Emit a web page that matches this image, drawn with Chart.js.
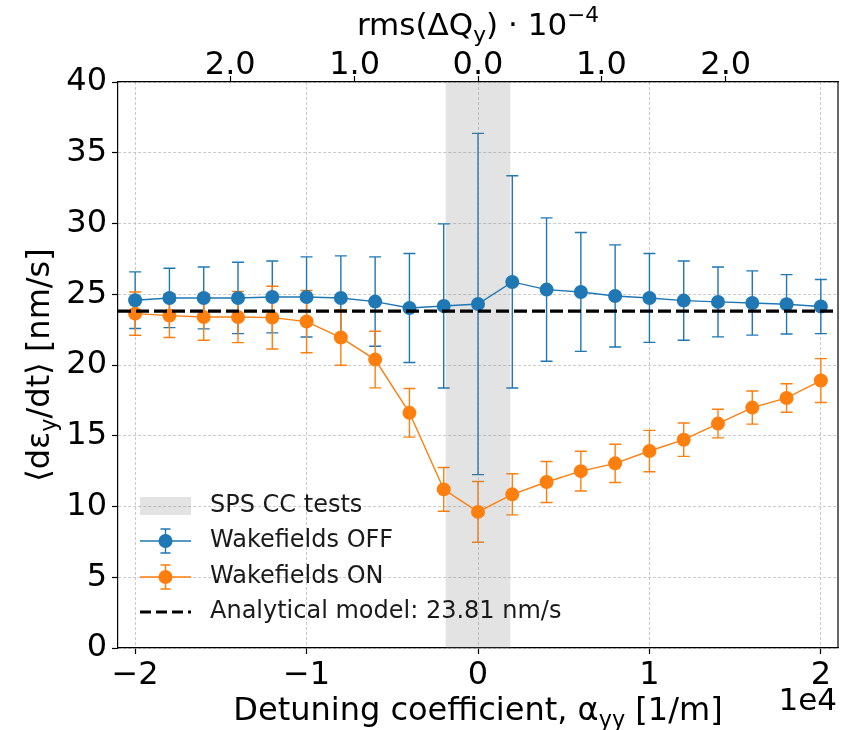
<!DOCTYPE html>
<html>
<head>
<meta charset="utf-8">
<script src="https://cdn.jsdelivr.net/npm/chart.js@4"></script>
<style>
  html, body { margin: 0; padding: 0; background: #fff; }
  #chart { display: block; }
</style>
</head>
<body>
<canvas id="chart" width="848" height="730"></canvas>
<script>
// detuning coefficient (units of 1e4 1/m)
const alphaYY = [-2, -1.8, -1.6, -1.4, -1.2, -1, -0.8, -0.6, -0.4, -0.2, 0, 0.2, 0.4, 0.6, 0.8, 1, 1.2, 1.4, 1.6, 1.8, 2];

const wakeOff = [24.58, 24.74, 24.74, 24.74, 24.81, 24.81, 24.74, 24.48, 24.03, 24.17, 24.31, 25.87, 25.33, 25.16, 24.88, 24.74, 24.55, 24.46, 24.38, 24.29, 24.13];
const wakeOffErr = [2.0, 2.1, 2.19, 2.52, 2.54, 2.83, 2.97, 3.16, 3.85, 5.8, 12.06, 7.5, 5.07, 4.2, 3.61, 3.14, 2.8, 2.47, 2.27, 2.1, 1.91];

const wakeOn = [23.63, 23.49, 23.39, 23.39, 23.35, 23.07, 21.94, 20.38, 16.62, 11.21, 9.62, 10.86, 11.73, 12.5, 13.05, 13.92, 14.72, 15.86, 16.99, 17.67, 18.9];
const wakeOnErr = [1.53, 1.55, 1.64, 1.81, 2.22, 2.2, 1.96, 2.0, 1.72, 1.55, 2.15, 1.45, 1.45, 1.4, 1.35, 1.46, 1.18, 1.01, 1.17, 1.01, 1.55];

const analytical = 23.81;
const sccBand = [-0.19, 0.19];

const xRange = [-2.1, 2.1];
const xTicks = [-2, -1, 0, 1, 2];
const yTicks = [0, 5, 10, 15, 20, 25, 30, 35, 40];
// top axis: rms tune spread (1e-4) placed at matching detuning values
const topTickPos = [-1.445, -0.72, 0, 0.72, 1.445];
const topTickLabels = ['2.0', '1.0', '0.0', '1.0', '2.0'];

const BLUE = '#1f77b4';
const ORANGE = '#ff7f0e';
const FONT = "'DejaVu Sans', sans-serif";

function pts(ys) {
    return alphaYY.map((x, i) => ({ x: x, y: ys[i] }));
}

function fmtMinus(v) {
    return String(v).replace('-', '\u2212');
}

// draws text made of normal / sub / super parts
function richText(ctx, parts, size, x, y, align) {
    const small = size * 0.7;
    let total = 0;
    parts.forEach(p => {
        ctx.font = `${p.s ? small : size}px ${FONT}`;
        p.w = ctx.measureText(p.t).width;
        total += p.w;
    });
    let cx = align === 'center' ? x - total / 2 : (align === 'right' ? x - total : x);
    ctx.textAlign = 'left';
    ctx.textBaseline = 'alphabetic';
    parts.forEach(p => {
        ctx.font = `${p.s ? small : size}px ${FONT}`;
        let dy = 0;
        if (p.s === -1) dy = size * 0.22;
        if (p.s === 1) dy = -size * 0.42;
        ctx.fillText(p.t, cx, y + dy);
        cx += p.w;
    });
}

function drawErrors(chart, ys, errs, color) {
    const { ctx, scales } = chart;
    const xs = scales.x, yy = scales.y;
    ctx.save();
    ctx.strokeStyle = color;
    ctx.lineWidth = 1.4;
    alphaYY.forEach((x, i) => {
        const px = xs.getPixelForValue(x);
        const top = yy.getPixelForValue(ys[i] + errs[i]);
        const bot = yy.getPixelForValue(ys[i] - errs[i]);
        ctx.beginPath();
        ctx.moveTo(px, top); ctx.lineTo(px, bot);
        ctx.moveTo(px - 6, top); ctx.lineTo(px + 6, top);
        ctx.moveTo(px - 6, bot); ctx.lineTo(px + 6, bot);
        ctx.stroke();
    });
    ctx.restore();
}

const errorBarPlugin = {
    id: 'errorBars',
    beforeDatasetsDraw(chart) {
        drawErrors(chart, wakeOff, wakeOffErr, BLUE);
        drawErrors(chart, wakeOn, wakeOnErr, ORANGE);
    }
};

const decorPlugin = {
    id: 'decor',
    afterDraw(chart) {
        const { ctx, chartArea: a } = chart;
        ctx.save();
        // right frame edge
        ctx.strokeStyle = '#000';
        ctx.lineWidth = 1.2;
        ctx.beginPath();
        ctx.moveTo(a.right, a.top); ctx.lineTo(a.right, a.bottom);
        ctx.stroke();

        ctx.fillStyle = '#000';
        const midX = (a.left + a.right) / 2;
        richText(ctx, [{ t: 'rms(\u0394Q' }, { t: 'y', s: -1 }, { t: ') \u00b7 10' }, { t: '\u22124', s: 1 }], 31, midX, 35, 'center');
        richText(ctx, [{ t: 'Detuning coefficient, \u03b1' }, { t: 'yy', s: -1 }, { t: ' [1/m]' }], 32, midX, 720, 'center');
        ctx.font = `31px ${FONT}`;
        ctx.textAlign = 'right';
        ctx.textBaseline = 'alphabetic';
        ctx.fillText('1e4', a.right - 1, 710);

        ctx.save();
        ctx.translate(49, (a.top + a.bottom) / 2);
        ctx.rotate(-Math.PI / 2);
        richText(ctx, [{ t: '\u27e8d\u03b5' }, { t: 'y', s: -1 }, { t: '/dt\u27e9 [nm/s]' }], 32, 0, 0, 'center');
        ctx.restore();

        // legend (no frame)
        const lx = 140, lw = 51, tx = 210;
        const rows = [506, 541, 577, 612];
        ctx.fillStyle = 'rgba(128,128,128,0.22)';
        ctx.fillRect(lx, rows[0] - 9, lw, 18);
        [[BLUE, rows[1]], [ORANGE, rows[2]]].forEach(([c, ry]) => {
            ctx.strokeStyle = c;
            ctx.lineWidth = 1.4;
            ctx.beginPath();
            ctx.moveTo(lx, ry); ctx.lineTo(lx + lw, ry);
            const mx = lx + lw / 2;
            ctx.moveTo(mx, ry - 12); ctx.lineTo(mx, ry + 12);
            ctx.moveTo(mx - 5, ry - 12); ctx.lineTo(mx + 5, ry - 12);
            ctx.moveTo(mx - 5, ry + 12); ctx.lineTo(mx + 5, ry + 12);
            ctx.stroke();
            ctx.fillStyle = c;
            ctx.beginPath();
            ctx.arc(mx, ry, 7, 0, Math.PI * 2);
            ctx.fill();
        });
        ctx.strokeStyle = '#000';
        ctx.lineWidth = 3;
        ctx.setLineDash([11, 5]);
        ctx.beginPath();
        ctx.moveTo(lx, rows[3]); ctx.lineTo(lx + lw, rows[3]);
        ctx.stroke();
        ctx.setLineDash([]);

        ctx.fillStyle = '#1a1a1a';
        ctx.font = `24px ${FONT}`;
        ctx.textAlign = 'left';
        ctx.textBaseline = 'middle';
        ['SPS CC tests', 'Wakefields OFF', 'Wakefields ON', 'Analytical model: 23.81 nm/s'].forEach((s, i) => {
            ctx.fillText(s, tx, rows[i]);
        });
        ctx.restore();
    }
};

const gridStyle = { color: '#bdbdbd', lineWidth: 0.8, tickColor: '#000', tickLength: 6, tickWidth: 1.2 };
const borderStyle = { display: true, color: '#000', width: 1.2, dash: [3, 2] };
const tickFont = { family: FONT, size: 32 };

new Chart(document.getElementById('chart'), {
    type: 'line',
    data: {
        datasets: [
            {
                label: 'Analytical model: 23.81 nm/s',
                data: [{ x: xRange[0], y: analytical }, { x: xRange[1], y: analytical }],
                borderColor: '#000', borderWidth: 3.2, borderDash: [13, 5],
                pointRadius: 0, order: 0
            },
            {
                label: 'Wakefields ON',
                data: pts(wakeOn),
                borderColor: ORANGE, backgroundColor: ORANGE, borderWidth: 1.4,
                pointRadius: 7, pointBorderWidth: 0, order: 1
            },
            {
                label: 'Wakefields OFF',
                data: pts(wakeOff),
                borderColor: BLUE, backgroundColor: BLUE, borderWidth: 1.4,
                pointRadius: 7, pointBorderWidth: 0, order: 2
            },
            {
                label: 'SPS CC tests',
                data: [{ x: sccBand[0], y: yTicks[yTicks.length - 1] }, { x: sccBand[1], y: yTicks[yTicks.length - 1] }],
                borderWidth: 0, pointRadius: 0, fill: 'origin',
                backgroundColor: 'rgba(128,128,128,0.22)', order: 3
            }
        ]
    },
    options: {
        responsive: false,
        animation: false,
        layout: { padding: { left: 0, right: 10, top: 0, bottom: 0 } },
        plugins: { legend: { display: false }, tooltip: { enabled: false } },
        scales: {
            x: {
                type: 'linear', position: 'bottom', min: xRange[0], max: xRange[1],
                afterBuildTicks: s => { s.ticks = xTicks.map(v => ({ value: v })); },
                afterFit: s => { s.height = 82; },
                grid: gridStyle, border: borderStyle,
                ticks: { color: '#000', font: tickFont, padding: 2, maxRotation: 0, callback: v => fmtMinus(v) }
            },
            x2: {
                type: 'linear', position: 'top', min: xRange[0], max: xRange[1],
                afterBuildTicks: s => { s.ticks = topTickPos.map(v => ({ value: v })); },
                afterFit: s => { s.height = 82; },
                grid: { drawOnChartArea: false, tickColor: '#000', tickLength: 6, tickWidth: 1.2 },
                border: { display: true, color: '#000', width: 1.2 },
                ticks: { color: '#000', font: tickFont, padding: -9, maxRotation: 0, callback: (v, i) => topTickLabels[i] }
            },
            y: {
                type: 'linear', min: yTicks[0], max: yTicks[yTicks.length - 1],
                afterBuildTicks: s => { s.ticks = yTicks.map(v => ({ value: v })); },
                afterFit: s => { s.width = 118; },
                grid: gridStyle, border: borderStyle,
                ticks: { color: '#000', font: tickFont, padding: 5 }
            }
        }
    },
    plugins: [errorBarPlugin, decorPlugin]
});
</script>
</body>
</html>
